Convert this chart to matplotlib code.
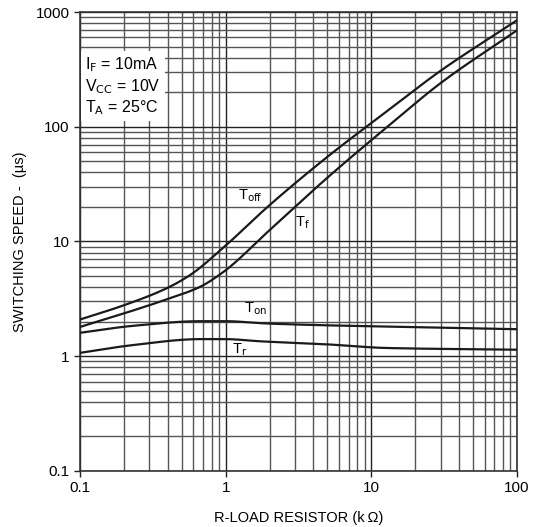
import numpy as np
import matplotlib
matplotlib.use("Agg")
import matplotlib.pyplot as plt
from matplotlib.ticker import LogLocator, FixedLocator, FixedFormatter, NullFormatter

plt.rcParams['font.family'] = ['Liberation Sans', 'DejaVu Sans']

# load resistance (kOhm) and switching times (us)
r_off = [0.1, 0.2, 0.39, 0.57, 0.96, 1.98, 4.93, 14.1, 29.6, 100]
t_off = [2.09, 2.78, 3.89, 5.1, 8.8, 20.5, 54.0, 150, 305, 848]

r_f = [0.1, 0.2, 0.39, 0.66, 0.96, 1.98, 4.93, 14.1, 29.6, 100]
t_f = [1.80, 2.36, 3.12, 4.0, 5.4, 12.4, 35.5, 110, 238, 693]

r_on = [0.1, 0.23, 0.67, 1.0, 1.91, 4.93, 17.5, 100]
t_on = [1.60, 1.84, 2.02, 2.02, 1.93, 1.86, 1.80, 1.72]

r_r = [0.1, 0.23, 0.67, 1.0, 1.72, 4.93, 12.7, 100]
t_r = [1.07, 1.25, 1.41, 1.41, 1.35, 1.27, 1.18, 1.14]

x_ticks = [0.1, 1, 10, 100]
x_labels = ['0.1', '1', '10', '100']
y_ticks = [0.1, 1, 10, 100, 1000]
y_labels = ['0.1', '1', '10', '100', '1000']


def smooth(r, t, n=300):
    lr = np.log10(r)
    lt = np.log10(t)
    xs = np.linspace(lr[0], lr[-1], n)
    # monotone cubic (PCHIP-like) in log-log space
    h = np.diff(lr)
    d = np.diff(lt) / h
    m = np.zeros(len(lr))
    m[0], m[-1] = d[0], d[-1]
    for i in range(1, len(lr) - 1):
        if d[i - 1] * d[i] <= 0:
            m[i] = 0
        else:
            w1 = 2 * h[i] + h[i - 1]
            w2 = h[i] + 2 * h[i - 1]
            m[i] = (w1 + w2) / (w1 / d[i - 1] + w2 / d[i])
    ys = np.empty(n)
    for k, x in enumerate(xs):
        i = min(np.searchsorted(lr, x, side='right') - 1, len(lr) - 2)
        s = (x - lr[i]) / h[i]
        h00 = 2 * s**3 - 3 * s**2 + 1
        h10 = s**3 - 2 * s**2 + s
        h01 = -2 * s**3 + 3 * s**2
        h11 = s**3 - s**2
        ys[k] = h00 * lt[i] + h10 * h[i] * m[i] + h01 * lt[i + 1] + h11 * h[i] * m[i + 1]
    return 10**xs, 10**ys


fig = plt.figure(figsize=(5.34, 5.27), dpi=100)
ax = fig.add_axes([0.1498, 0.1063, 0.8184, 0.8709])
ax.set_xscale('log')
ax.set_yscale('log')
ax.set_xlim(0.1, 100)
ax.set_ylim(0.1, 1000)

ax.xaxis.set_major_locator(FixedLocator(x_ticks))
ax.xaxis.set_major_formatter(FixedFormatter(x_labels))
ax.yaxis.set_major_locator(FixedLocator(y_ticks))
ax.yaxis.set_major_formatter(FixedFormatter(y_labels))
ax.xaxis.set_minor_locator(LogLocator(base=10, subs=np.arange(2, 10), numticks=20))
ax.yaxis.set_minor_locator(LogLocator(base=10, subs=np.arange(2, 10), numticks=20))
ax.xaxis.set_minor_formatter(NullFormatter())
ax.yaxis.set_minor_formatter(NullFormatter())

ax.grid(which='major', color='#222222', lw=1.0)
ax.grid(which='minor', color='#555555', lw=1.0)
ax.set_axisbelow(True)
ax.tick_params(which='major', direction='out', length=4, width=1, labelsize=11,
               color='#222222', top=False, right=False)
ax.tick_params(which='minor', length=0)
for s in ax.spines.values():
    s.set_color('#333333')
    s.set_linewidth(1.2)

for r, t in [(r_off, t_off), (r_f, t_f), (r_on, t_on), (r_r, t_r)]:
    xs, ys = smooth(r, t)
    ax.plot(xs, ys, color='#1a1a1a', lw=1.6, zorder=3)

ax.text(1.47, 25.3, r'T$_{\rm off}$', fontsize=10.5, ha='center', va='center', zorder=4)
ax.text(3.37, 14.7, r'T$_{\rm f}$', fontsize=10.5, ha='center', va='center', zorder=4)
ax.text(1.59, 2.6, r'T$_{\rm on}$', fontsize=10.5, ha='center', va='center', zorder=4)
ax.text(1.25, 1.13, r'T$_{\rm r}$', fontsize=10.5, ha='center', va='center', zorder=4)

# conditions box
ax.text(0.109, 225, 'I$_{\\rm F}$ = 10mA\nV$_{\\rm CC}$ = 10V\nT$_{\\rm A}$ = 25°C',
        fontsize=11.5, ha='left', va='center', linespacing=1.2, zorder=5,
        bbox=dict(facecolor='white', edgecolor='none', pad=3))

ax.set_xlabel('R-LOAD RESISTOR (k\u2009\u03a9)', fontsize=10.5, labelpad=11)
ax.set_ylabel('SWITCHING SPEED -  (\u00b5s)', fontsize=10.5, labelpad=6)

fig.savefig('out.png', dpi=100)
